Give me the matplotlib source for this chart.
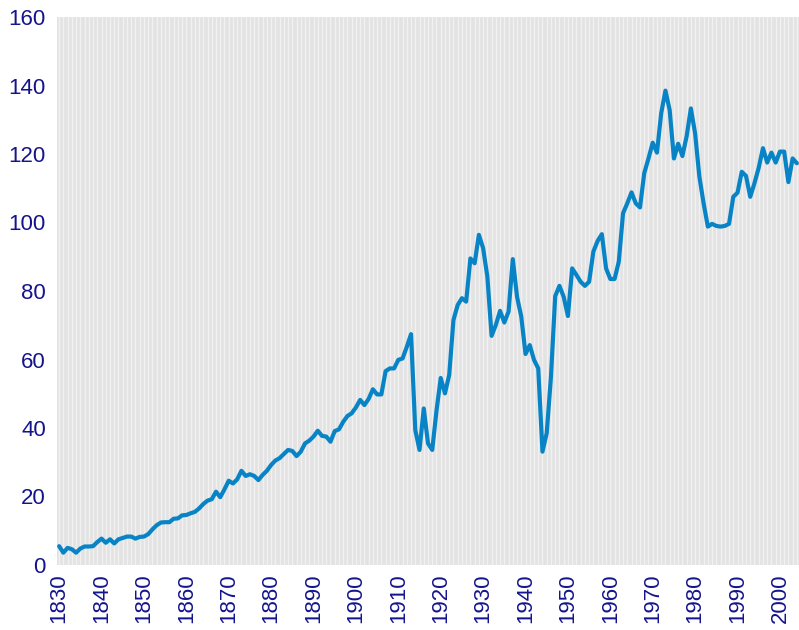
# yearly index, 1830-2004

import matplotlib.pyplot as plt
import numpy as np

first_year = 1830
last_year = 2004
years = np.arange(first_year, last_year + 1)

# values read per decade
values = [
    5.5, 3.6, 5.0, 4.6, 3.6, 4.8, 5.4, 5.4, 5.5, 6.7,             # 1830s
    7.7, 6.5, 7.5, 6.3, 7.5, 7.9, 8.3, 8.3, 7.7, 8.2,             # 1840s
    8.3, 9.0, 10.4, 11.6, 12.4, 12.5, 12.5, 13.5, 13.6, 14.5,     # 1850s
    14.6, 15.1, 15.5, 16.5, 17.8, 18.8, 19.2, 21.4, 19.8, 22.1,   # 1860s
    24.6, 23.8, 25.0, 27.5, 26.0, 26.5, 26.0, 24.8, 26.3, 27.5,   # 1870s
    29.2, 30.5, 31.2, 32.4, 33.6, 33.3, 31.8, 33.1, 35.5, 36.3,   # 1880s
    37.5, 39.2, 37.7, 37.5, 36.0, 39.1, 39.6, 41.8, 43.5, 44.3,   # 1890s
    46.0, 48.2, 46.7, 48.5, 51.3, 49.8, 49.8, 56.6, 57.4, 57.4,   # 1900s
    59.9, 60.3, 63.7, 67.4, 39.4, 33.6, 45.7, 35.5, 33.6, 45.0,   # 1910s
    54.6, 50.1, 55.5, 71.5, 75.9, 77.9, 76.9, 89.5, 88.1, 96.4,   # 1920s
    92.5, 84.2, 66.9, 70.1, 74.2, 70.8, 74.0, 89.3, 78.3, 72.5,   # 1930s
    61.6, 64.2, 59.9, 57.4, 33.1, 38.5, 55.0, 78.5, 81.5, 78.3,   # 1940s
    72.7, 86.6, 84.7, 82.7, 81.5, 82.7, 91.5, 94.6, 96.6, 86.6,   # 1950s
    83.5, 83.5, 88.6, 102.7, 105.6, 108.8, 105.6, 104.4, 114.4, 118.7,  # 1960s
    123.3, 120.4, 131.9, 138.5, 132.8, 118.7, 123.0, 119.4, 125.2, 133.3,  # 1970s
    126.0, 113.4, 105.6, 98.8, 99.6, 99.0, 98.8, 99.0, 99.6, 107.5,  # 1980s
    108.7, 114.8, 113.6, 107.5, 111.5, 116.0, 121.7, 117.5, 120.4, 117.5,  # 1990s
    120.7, 120.7, 111.8, 118.7, 117.3,                            # 2000s
]

label_years = np.arange(1830, 2001, 10)
y_ticks = [0, 20, 40, 60, 80, 100, 120, 140, 160]

text_color = '#14148c'
line_color = '#0884c6'

plt.rcParams['font.family'] = ['Liberation Sans', 'DejaVu Sans']

fig = plt.figure(figsize=(7.99, 6.30), dpi=100)
ax = fig.add_axes([57 / 799, 1 - 565 / 630, 1 - 57 / 799, (565 - 17) / 630])
ax.set_facecolor('#e3e3e3')

# thin light stripes, one per year
for yr in years:
    ax.axvline(yr, color='#f1f1f1', linewidth=1.0, zorder=1)

ax.plot(years, values, color=line_color, linewidth=3.0, zorder=3,
        solid_joinstyle='round', solid_capstyle='round')

ax.set_xlim(first_year - 0.5, last_year + 0.5)
ax.set_ylim(0, 160)
ax.set_xticks(label_years)
ax.set_xticklabels([str(y) for y in label_years], rotation=90)
ax.set_yticks(y_ticks)
ax.tick_params(axis='both', length=0, labelsize=16, labelcolor=text_color)
ax.tick_params(axis='x', pad=6)
ax.tick_params(axis='y', pad=8)

for side in ax.spines.values():
    side.set_visible(False)

fig.savefig('out.png', dpi=100)
